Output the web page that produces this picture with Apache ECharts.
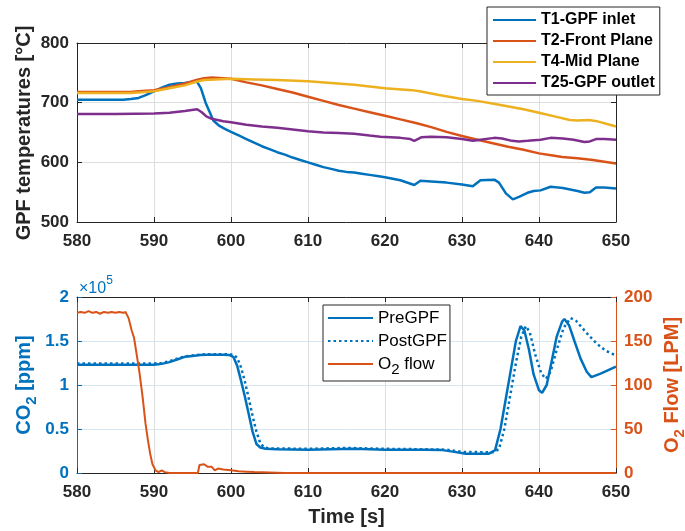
<!DOCTYPE html>
<html><head><meta charset="utf-8">
<script src="https://cdn.jsdelivr.net/npm/echarts@6/dist/echarts.min.js"></script>
<style>html,body{margin:0;padding:0;background:#fff}#c{width:685px;height:531px}</style>
</head><body><div id="c"></div>
<script>
// ---- Data ----
const timeRange = [580, 650, 10];          // min, max, interval (s)
const tempRange = [500, 800, 100];         // degC
const co2Range = [0, 200000, 50000];       // ppm
const o2Range = [0, 200, 50];              // LPM

const tempNames = ['T1-GPF inlet', 'T2-Front Plane', 'T4-Mid Plane', 'T25-GPF outlet'];
const gasNames = ['PreGPF', 'PostGPF', 'O2 flow'];

const T1 = [[580,705],[583,705],[586,705],[587,706],[588,708],[589,713],[590,719],[591,725],[592,730],[593,732],[594,733],[595,735],[595.5,737],[596.1,724],[596.7,700],[597.2,685],[597.7,670],[598.5,661],[599.2,656],[600,651],[601,645],[602,639],[603,633],[604,627],[605,622],[606,617],[607,613],[608,608],[609,604],[610,600],[611,596],[612,592],[613,589],[614,586],[615,584],[616,583],[617,581],[618,579],[619,577],[620,575],[622,570],[623.8,562],[624.6,569],[626,568],[628,566],[630,563],[631.4,560],[632.4,570],[634.2,571],[634.8,566],[635.7,548],[636.6,538],[637.4,542],[638.5,549],[639.3,552],[640.2,553],[641.5,559],[643.1,557],[645,552],[645.9,549],[646.6,550],[647.4,558],[648.5,558],[650,556]];
const T2 = [[580,718],[584,718],[587,718],[588,719],[590,721],[592,726],[594,732],[595.5,738],[596.5,741],[597.5,742],[599,741],[600,740],[601,737],[602,734],[604,729],[606,723],[608,717],[610,710],[612,703],[614,696],[616,690],[618,684],[620,678],[622,672],[624,666],[626,659],[628,651],[630,644],[632,638],[634,632],[636,626],[638,621],[640,615],[642,611],[643,609],[645,607],[647,604],[648.5,601],[650,598]];
const T4 = [[580,716],[584,716],[587,716],[588,717],[590,719],[592,724],[594,729],[595.5,735],[596.5,738],[598,739],[600,740],[603,739],[606,738],[610,736],[613,733],[616,730],[620,724],[623.5,721],[624.5,719],[627,713],[630,706],[632,703],[635,696],[638,689],[640,683],[642,677],[644,671],[645,670],[646.5,671],[647.5,669],[650,660]];
const T25 = [[580,681],[585,681],[590,682],[592,683],[594,686],[595.6,689],[596.2,684],[596.8,677],[597.5,673],[599,669],[600,667],[602,663],[604,660],[606,658],[608,655],[610,652],[612,650],[614,649],[616,648],[618,645],[619.4,643],[622,641],[623.3,639],[623.8,636],[624.7,642],[626,643],[628,642],[630,639],[631.4,636],[632.4,638],[634.2,641],[635.2,640],[636.5,636],[637.4,635],[638.5,636],[640.2,638],[641.5,641],[643.1,640],[644.5,638],[645.9,634],[646.6,635],[647.4,639],[648.5,639],[650,638]];

const preGPF = [[580,123000],[585,123000],[590,123000],[591,124000],[592,126000],[593,129000],[594,132000],[595,133000],[596,134000],[597,134500],[598,134500],[599,134500],[599.8,134000],[600.3,132000],[600.8,122000],[601.3,105000],[601.8,87000],[602.3,67000],[602.8,47000],[603.3,33000],[603.8,29000],[604.5,27500],[606,27000],[610,26500],[613,27000],[616,27500],[620,26500],[625,26500],[627.5,26000],[629,24000],[630.5,22000],[633.5,22000],[634.3,26000],[635,50000],[635.7,85000],[636.4,120000],[637,150000],[637.6,167000],[638.1,162000],[638.7,140000],[639.3,112000],[640,94000],[640.4,91000],[641,100000],[641.6,125000],[642.3,155000],[643,172000],[643.3,175000],[643.9,168000],[644.6,150000],[645.4,130000],[646.2,115000],[646.8,109000],[648,113000],[649,117000],[650,121000]];
const postGPF = [[580,124500],[590,124500],[591,125000],[592,127000],[593,130000],[594,132500],[595,133500],[596,134500],[597,135000],[599,135000],[600.3,134500],[600.8,131000],[601.3,120000],[601.8,104000],[602.3,85000],[602.8,65000],[603.3,47000],[603.8,34000],[604.3,29000],[605,28000],[610,27500],[615,28500],[620,27500],[625,27000],[628,26500],[630,24000],[634,23500],[634.8,27000],[635.5,50000],[636.2,85000],[637,125000],[637.7,155000],[638.3,167000],[638.8,160000],[639.5,135000],[640.3,113000],[640.9,107000],[641.5,115000],[642.3,140000],[643.2,165000],[644.1,176000],[644.8,173000],[645.6,165000],[646.5,156000],[647.5,147000],[648.5,140000],[649.3,136000],[650,134000]];
const o2Flow = [[580,182],[580.5,183],[581,182],[581.5,184],[582,182],[582.5,183],[583,181],[583.5,183],[584,182],[584.5,183],[585,182],[585.5,183],[586,182],[586.3,183],[586.7,176],[587.1,162],[587.4,154],[587.8,132],[588.1,115],[588.5,88],[588.9,56],[589.2,38],[589.5,22],[589.8,10],[590.2,3],[590.6,1],[591,3],[591.4,1],[592,0],[595.7,0],[595.9,9],[596.5,10],[597,7],[597.5,7],[597.9,3],[598.3,5],[599,4],[600,3],[601,2],[602,1.5],[603,1],[605,0.5],[607,0],[650,0]];

// ---- Styling ----
const FONT = "'Liberation Sans', Arial, sans-serif";
const DARK = '#262626', BLUE = '#0072BD', ORANGE = '#D95319', YELLOW = '#EDB120', PURPLE = '#7E2F8E';
const GRID_GRAY = '#dedede', GRID_BLUE = '#d6e7f3';

function xAx(gi, pos, showLabel) {
  return {
    type: 'value', gridIndex: gi, position: pos, min: timeRange[0], max: timeRange[1], interval: timeRange[2],
    axisLine: {show: true, onZero: false, lineStyle: {color: DARK, width: 1}},
    axisTick: {show: true, inside: true, length: 5, lineStyle: {color: DARK}},
    axisLabel: {show: showLabel, color: DARK, fontSize: 17, fontWeight: 'bold', fontFamily: FONT, margin: 11},
    splitLine: {show: showLabel, lineStyle: {color: GRID_GRAY, width: 1}}
  };
}
function yAx(gi, pos, range, color, showLabel, split, fmt) {
  return {
    type: 'value', gridIndex: gi, position: pos, min: range[0], max: range[1], interval: range[2],
    axisLine: {show: true, onZero: false, lineStyle: {color: color, width: 1}},
    axisTick: {show: true, inside: true, length: 5, lineStyle: {color: color}},
    axisLabel: {show: showLabel, color: color, fontSize: 17, fontWeight: 'bold', fontFamily: FONT, margin: 8, formatter: fmt},
    splitLine: {show: !!split, lineStyle: {color: split || GRID_GRAY, width: 1}}
  };
}
function ser(name, data, color, xi, yi, w, type) {
  return {
    name: name, type: 'line', data: data, xAxisIndex: xi, yAxisIndex: yi,
    symbol: 'none', showSymbol: false, smooth: false, animation: false,
    lineStyle: {color: color, width: w, type: type || 'solid'}, itemStyle: {color: color}
  };
}

const chart = echarts.init(document.getElementById('c'), null, {renderer: 'canvas'});
chart.setOption({
  animation: false,
  backgroundColor: '#fff',
  grid: [
    {left: 77, top: 43, width: 539, height: 179, containLabel: false},
    {left: 77, top: 297, width: 539, height: 176, containLabel: false}
  ],
  xAxis: [xAx(0, 'bottom', true), xAx(0, 'top', false), xAx(1, 'bottom', true), xAx(1, 'top', false)],
  yAxis: [
    yAx(0, 'left', tempRange, DARK, true, GRID_GRAY),
    yAx(0, 'right', tempRange, DARK, false, null),
    yAx(1, 'left', co2Range, BLUE, true, GRID_BLUE, v => String(v / 100000)),
    yAx(1, 'right', o2Range, ORANGE, true, null)
  ],
  legend: [
    {
      data: tempNames, orient: 'vertical', left: 487, top: 7,
      itemWidth: 43, itemHeight: 14, itemGap: 5, itemTextGap: 5,
      padding: [5, 5, 4, 5], borderColor: DARK, borderWidth: 1, borderRadius: 0, backgroundColor: '#fff',
      itemStyle: {opacity: 0},
      textStyle: {color: '#000', fontSize: 16, fontWeight: 'bold', fontFamily: FONT},
      selectedMode: false
    },
    {
      data: gasNames, orient: 'vertical', left: 323, top: 305,
      itemWidth: 45, itemHeight: 14, itemGap: -3, itemTextGap: 3,
      padding: [0, 3, 4, 4], borderColor: DARK, borderWidth: 1, borderRadius: 0, backgroundColor: '#fff',
      itemStyle: {opacity: 0},
      textStyle: {color: '#000', fontSize: 17, fontFamily: FONT, lineHeight: 26,
        rich: {a: {fontSize: 17, fontFamily: FONT, color: '#000', lineHeight: 26},
               s: {fontSize: 15, fontFamily: FONT, color: '#000', lineHeight: 14, verticalAlign: 'bottom'}}},
      formatter: n => n === 'O2 flow' ? '{a|O}{s|2}{a| flow}' : n,
      selectedMode: false
    }
  ],
  series: [
    ser(tempNames[0], T1, BLUE, 0, 0, 2.5),
    ser(tempNames[1], T2, ORANGE, 0, 0, 2.5),
    ser(tempNames[2], T4, YELLOW, 0, 0, 2.5),
    ser(tempNames[3], T25, PURPLE, 0, 0, 2.5),
    ser(gasNames[0], preGPF, BLUE, 2, 2, 2.5),
    ser(gasNames[1], postGPF, BLUE, 2, 2, 2.5, [2.5, 3]),
    ser(gasNames[2], o2Flow, ORANGE, 2, 3, 2)
  ],
  graphic: [
    {type: 'text', x: 24, y: 133, rotation: Math.PI / 2,
     style: {text: 'GPF temperatures [°C]', fill: DARK, font: 'bold 20px ' + FONT,
             align: 'center', verticalAlign: 'middle', textAlign: 'center', textVerticalAlign: 'middle'}},
    {type: 'text', x: 24, y: 385, rotation: Math.PI / 2,
     style: {text: '{a|CO}{s|2}{a| [ppm]}', fill: BLUE, align: 'center', verticalAlign: 'middle',
             textAlign: 'center', textVerticalAlign: 'middle',
             rich: {a: {fontSize: 20, fontWeight: 'bold', fontFamily: FONT, fill: BLUE, color: BLUE, lineHeight: 30},
                    s: {fontSize: 15, fontWeight: 'bold', fontFamily: FONT, fill: BLUE, color: BLUE, lineHeight: 16, verticalAlign: 'bottom'}}}},
    {type: 'text', x: 672, y: 385, rotation: Math.PI / 2,
     style: {text: '{a|O}{s|2}{a| Flow [LPM]}', fill: ORANGE, align: 'center', verticalAlign: 'middle',
             textAlign: 'center', textVerticalAlign: 'middle',
             rich: {a: {fontSize: 20, fontWeight: 'bold', fontFamily: FONT, fill: ORANGE, color: ORANGE, lineHeight: 30},
                    s: {fontSize: 15, fontWeight: 'bold', fontFamily: FONT, fill: ORANGE, color: ORANGE, lineHeight: 16, verticalAlign: 'bottom'}}}},
    {type: 'text', x: 346.5, y: 517,
     style: {text: 'Time [s]', fill: DARK, font: 'bold 20px ' + FONT,
             align: 'center', verticalAlign: 'middle', textAlign: 'center', textVerticalAlign: 'middle'}},
    {type: 'text', x: 79, y: 286,
     style: {text: '{a|×10}{s|5}', fill: BLUE, align: 'left', verticalAlign: 'middle',
             textAlign: 'left', textVerticalAlign: 'middle',
             rich: {a: {fontSize: 16, fontFamily: FONT, fill: BLUE, color: BLUE, lineHeight: 22, verticalAlign: 'bottom'},
                    s: {fontSize: 12, fontFamily: FONT, fill: BLUE, color: BLUE, lineHeight: 12, verticalAlign: 'top'}}}}
  ]
});
</script>
</body></html>
